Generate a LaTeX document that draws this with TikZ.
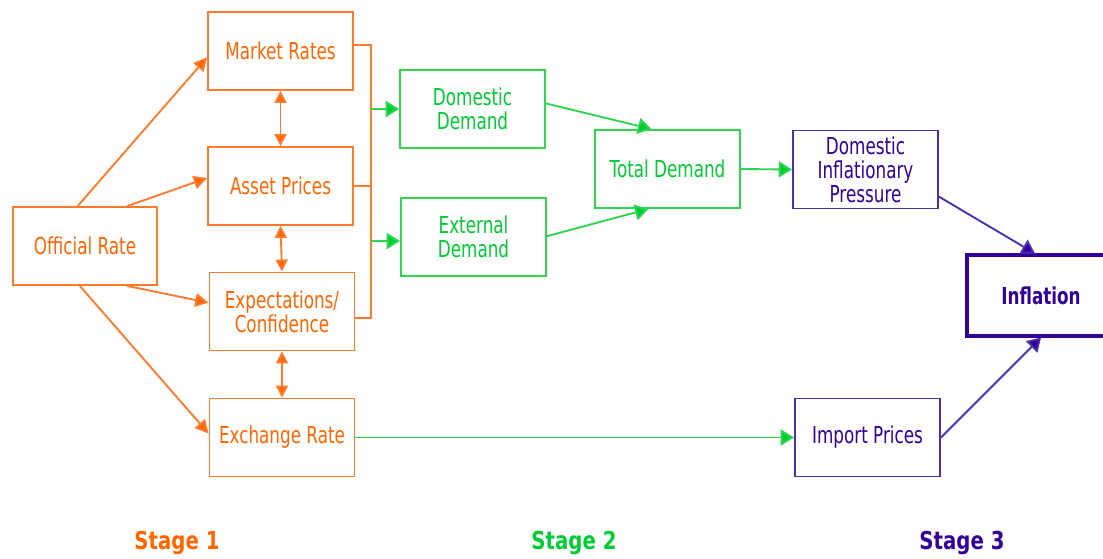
\documentclass[tikz,border=0pt]{standalone}
\usepackage{fontspec}
\setmainfont{DejaVu Sans}[FakeStretch=0.72]
\newfontfamily\stagefont{DejaVu Sans}[FakeStretch=0.8]
\usetikzlibrary{arrows.meta,calc}
\definecolor{org}{HTML}{FF6600}
\definecolor{orgl}{HTML}{FF7A2A}
\definecolor{grn}{HTML}{00CC33}
\definecolor{grnl}{HTML}{2ED650}
\definecolor{pur}{HTML}{330099}
\definecolor{purl}{HTML}{4A2FB0}
\tikzset{
  box/.style={draw, line width=1.4pt, minimum width=108.75pt, minimum height=58.5pt,
    align=center, inner sep=1pt, font=\fontsize{17.5}{18}\selectfont},
  obox/.style={box, draw=orgl, text=org},
  gbox/.style={box, draw=grnl, text=grn},
  pbox/.style={box, draw=purl, text=pur},
  oarr/.style={draw=orgl, line width=1.4pt, -{Triangle[length=10pt,width=10pt,fill=org]}},
  odarr/.style={draw=orgl, line width=1.4pt, {Triangle[length=9pt,width=9pt,fill=org]}-{Triangle[length=9pt,width=9pt,fill=org]}},
  oline/.style={draw=orgl, line width=1.4pt},
  garr/.style={draw=grnl, line width=1.4pt, -{Triangle[length=10pt,width=12pt,fill=grn]}},
  parr/.style={draw=purl, line width=1.4pt, -{Triangle[length=10pt,width=12pt,fill=pur]}},
  stage/.style={font=\stagefont\fontsize{18.5}{20}\selectfont\bfseries}
}
\begin{document}
\begin{tikzpicture}[x=0.75pt,y=-0.75pt]
\clip (0,0) rectangle (1103,558);
\fill[white] (0,0) rectangle (1103,558);
% nodes
\node[obox, minimum width=108pt] (OR) at (85,246) {Official Rate};
\node[obox] (MR) at (280.5,51) {Market Rates};
\node[obox] (AP) at (280.5,186) {Asset Prices};
\node[obox] (EC) at (282,311.5) {Expectations/\\Confidence};
\node[obox] (ER) at (282,437.5) {Exchange Rate};
\node[gbox] (DD) at (472.5,109) {Domestic\\Demand};
\node[gbox] (ED) at (473.5,237) {External\\Demand};
\node[gbox] (TD) at (667.5,169) {Total Demand};
\node[pbox] (DIP) at (865.5,169.5) {Domestic\\Inflationary\\Pressure};
\node[pbox] (IP) at (867.5,437.5) {Import Prices};
\node[box, draw=pur, text=pur, line width=2.3pt, minimum width=111pt, minimum height=60.75pt,
  font=\fontsize{17.5}{18}\selectfont\bfseries] (INF) at (1041,295.5) {Inflation};
% stage labels
\node[stage, text=org] (S1) at (177,543) {Stage 1};
\node[stage, text=grn] (S2) at (574,543) {Stage 2};
\node[stage, text=pur] (S3) at (962,543) {Stage 3};
% official rate arrows
\draw[oarr] ($(OR.north west)!0.45!(OR.north east)$) -- ($(MR.north west)!0.58!(MR.south west)$);
\draw[oarr] ($(OR.north west)!0.79!(OR.north east)$) -- ($(AP.north west)!0.40!(AP.south west)$);
\draw[oarr] ($(OR.south west)!0.79!(OR.south east)$) -- ($(EC.north west)!0.39!(EC.south west)$);
\draw[oarr] ($(OR.south west)!0.465!(OR.south east)$) -- ($(ER.north west)!0.45!(ER.south west)$);
% vertical double arrows
\draw[odarr] (MR.south) -- (AP.north);
\draw[odarr] (AP.south) -- (EC.north);
\draw[odarr] (EC.south) -- (ER.north);
% bracket
\coordinate (bx) at (371,0);
\coordinate (b1) at ($(MR.north east)!0.42!(MR.south east)$);
\coordinate (b3) at ($(EC.north east)!0.58!(EC.south east)$);
\coordinate (edw) at ($(ED.north west)!0.55!(ED.south west)$);
\draw[oline] (b1) -- (b1 -| bx) -- (b3 -| bx) -- (b3);
\draw[oline] (AP.east) -- (AP.east -| bx);
\draw[garr] (DD.west -| bx) -- (DD.west);
\draw[garr] (edw -| bx) -- (edw);
% demand arrows
\draw[garr] ($(DD.north east)!0.43!(DD.south east)$) -- ($(TD.north west)!0.39!(TD.north east)$);
\draw[garr] ($(ED.north east)!0.49!(ED.south east)$) -- ($(TD.south west)!0.37!(TD.south east)$);
\draw[garr] (TD.east) -- (DIP.west);
\draw[garr] (ER.east) -- (IP.west);
% inflation arrows
\draw[parr] ($(DIP.north east)!0.84!(DIP.south east)$) -- ($(INF.north west)!0.46!(INF.north east)$);
\draw[parr] (IP.east) -- ($(INF.south west)!0.50!(INF.south east)$);
\end{tikzpicture}
\end{document}
